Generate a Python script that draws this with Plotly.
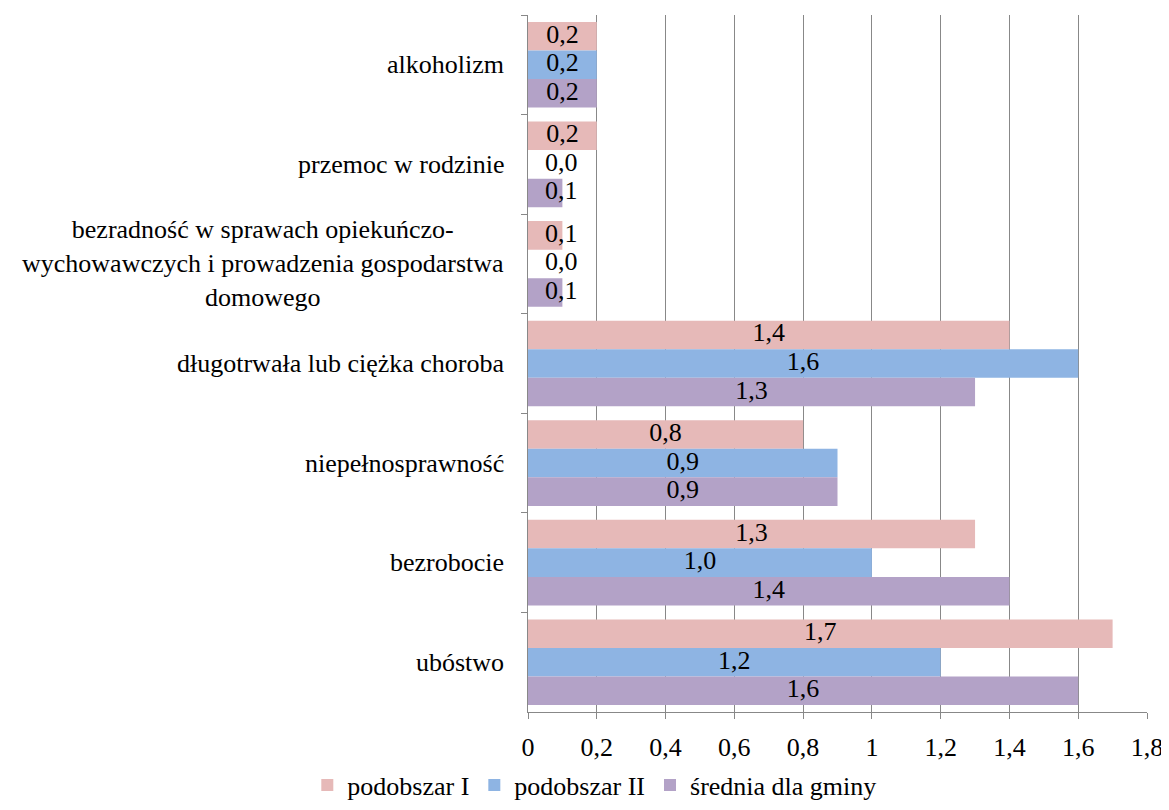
import plotly.graph_objects as go

categories = [
    "alkoholizm",
    "przemoc w rodzinie",
    "bezradność w sprawach opiekuńczo-<br>wychowawczych i prowadzenia gospodarstwa<br>domowego",
    "długotrwała lub ciężka choroba",
    "niepełnosprawność",
    "bezrobocie",
    "ubóstwo",
]
series_names = ["podobszar I", "podobszar II", "średnia dla gminy"]
podobszar_1 = [0.2, 0.2, 0.1, 1.4, 0.8, 1.3, 1.7]
podobszar_2 = [0.2, 0.0, 0.0, 1.6, 0.9, 1.0, 1.2]
srednia = [0.2, 0.1, 0.1, 1.3, 0.9, 1.4, 1.6]
x_ticks = [0, 0.2, 0.4, 0.6, 0.8, 1.0, 1.2, 1.4, 1.6, 1.8]

colors = ["#E6B9B8", "#8EB4E3", "#B3A2C7"]
FONT = "Liberation Serif, Times New Roman, serif"
FS = 26
GAP = 0.14

fig = go.Figure()
all_series = [podobszar_1, podobszar_2, srednia]
for name, vals, col in zip(series_names, all_series, colors):
    fig.add_trace(go.Bar(
        y=categories, x=vals, name=name, orientation="h",
        marker=dict(color=col, line=dict(width=0)),
        offsetgroup=name,
    ))
for name, vals in zip(series_names, all_series):
    fig.add_trace(go.Scatter(
        y=categories, x=[max(v / 2, 0.097) for v in vals],
        text=[f"{v:.1f}".replace(".", ",") for v in vals],
        mode="text", orientation="h", offsetgroup=name,
        textposition="middle center",
        textfont=dict(family=FONT, size=FS, color="#000"),
        showlegend=False, cliponaxis=False, hoverinfo="skip",
    ))

annotations = []
for c in categories:
    annotations.append(dict(
        x=0, xref="paper", y=c, yref="y", text=c, showarrow=False,
        xanchor="right", yanchor="middle", xshift=-22, align="center",
        font=dict(family=FONT, size=FS, color="#000"),
    ))

# page body has an 8px default margin, so the figure is 8px smaller
fig.update_layout(
    width=1161, height=802,
    margin=dict(l=520, r=22, t=7, b=98, autoexpand=False),
    paper_bgcolor="white", plot_bgcolor="white",
    barmode="group", bargap=GAP, bargroupgap=0,
    scattermode="group", scattergap=GAP,
    separators=", ",
    font=dict(family=FONT, size=FS, color="#000"),
    annotations=annotations,
    legend=dict(
        orientation="h", xref="container", yref="container",
        x=0.505, xanchor="center", y=0.031, yanchor="middle",
        font=dict(family=FONT, size=FS, color="#000"),
        itemwidth=30, traceorder="normal",
    ),
    xaxis=dict(
        range=[0, 1.8], tickvals=x_ticks, showgrid=True, gridcolor="#888888",
        gridwidth=1, zeroline=False, showline=True, linecolor="#888888",
        ticks="outside", ticklen=6, tickcolor="#888888", automargin=False,
        tickfont=dict(family=FONT, size=FS, color="#000"),
        ticklabelstandoff=6,
    ),
    yaxis=dict(
        autorange="reversed", showticklabels=False, showline=True,
        linecolor="#888888", ticks="outside", ticklen=6, tickcolor="#888888",
        tickson="boundaries", showgrid=False, zeroline=False, automargin=False,
    ),
)

fig.write_html("out.html")
